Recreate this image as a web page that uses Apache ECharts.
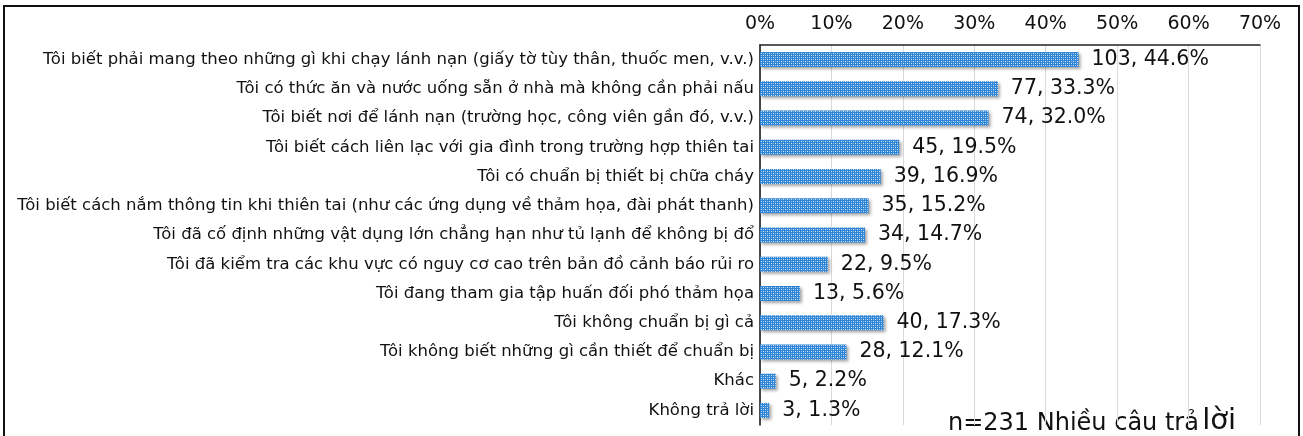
<!DOCTYPE html>
<html>
<head>
<meta charset="utf-8">
<style>
  html, body { margin: 0; padding: 0; background: #fff; }
  #chart { width: 1303px; height: 436px; }
</style>
<script src="https://cdn.jsdelivr.net/npm/echarts@6/dist/echarts.min.js"></script>
</head>
<body>
<div id="chart"></div>
<script>
// Survey items (multiple answers allowed), top to bottom
const categories = [
  'Tôi biết phải mang theo những gì khi chạy lánh nạn (giấy tờ tùy thân, thuốc men, v.v.)',
  'Tôi có thức ăn và nước uống sẵn ở nhà mà không cần phải nấu',
  'Tôi biết nơi để lánh nạn (trường học, công viên gần đó, v.v.)',
  'Tôi biết cách liên lạc với gia đình trong trường hợp thiên tai',
  'Tôi có chuẩn bị thiết bị chữa cháy',
  'Tôi biết cách nắm thông tin khi thiên tai (như các ứng dụng về thảm họa, đài phát thanh)',
  'Tôi đã cố định những vật dụng lớn chẳng hạn như tủ lạnh để không bị đổ',
  'Tôi đã kiểm tra các khu vực có nguy cơ cao trên bản đồ cảnh báo rủi ro',
  'Tôi đang tham gia tập huấn đối phó thảm họa',
  'Tôi không chuẩn bị gì cả',
  'Tôi không biết những gì cần thiết để chuẩn bị',
  'Khác',
  'Không trả lời'
];
const counts = [103, 77, 74, 45, 39, 35, 34, 22, 13, 40, 28, 5, 3];
const percents = [44.6, 33.3, 32.0, 19.5, 16.9, 15.2, 14.7, 9.5, 5.6, 17.3, 12.1, 2.2, 1.3];
const axisTicks = [0, 10, 20, 30, 40, 50, 60, 70];
const noteText = 'n=231 Nhiều câu trả';
const noteTail = 'lời';

const FONT = '"DejaVu Sans", "Noto Sans", sans-serif';

// Blue cross-hatch fill for the bars
function makePattern() {
  const c = document.createElement('canvas');
  c.width = 4; c.height = 4;
  const g = c.getContext('2d');
  g.fillStyle = '#2f86d6';
  g.fillRect(0, 0, 4, 4);
  g.fillStyle = '#d6e8f8';
  g.fillRect(1, 1, 1, 1);
  g.fillRect(3, 3, 1, 1);
  g.fillStyle = '#8fbfea';
  g.fillRect(3, 1, 1, 1);
  g.fillRect(1, 3, 1, 1);
  return c;
}

const chart = echarts.init(document.getElementById('chart'), null, { renderer: 'canvas' });

const tickMin = axisTicks[0];
const tickMax = axisTicks[axisTicks.length - 1];
const tickStep = axisTicks[1] - axisTicks[0];

chart.setOption({
  animation: false,
  backgroundColor: '#fff',
  grid: { left: 760, top: 45, width: 500, height: 380, containLabel: false },
  xAxis: {
    type: 'value',
    position: 'top',
    min: tickMin, max: tickMax, interval: tickStep,
    axisLine: { show: true, lineStyle: { color: '#222', width: 1.5 } },
    axisTick: { show: false },
    splitLine: { show: true, lineStyle: { color: '#d9d9d9', width: 1 } },
    axisLabel: {
      formatter: '{value}%', color: '#111', fontSize: 19, fontFamily: FONT, margin: 11
    }
  },
  yAxis: {
    type: 'category',
    inverse: true,
    data: categories,
    axisLine: { show: true, lineStyle: { color: '#111', width: 1.5 } },
    axisTick: { show: false },
    axisLabel: { color: '#111', fontSize: 16.5, fontFamily: FONT, margin: 6 }
  },
  series: [{
    type: 'bar',
    data: percents,
    barWidth: 15,
    itemStyle: {
      color: { image: makePattern(), repeat: 'repeat' },
      shadowColor: 'rgba(0,0,0,0.35)',
      shadowBlur: 3,
      shadowOffsetX: 2,
      shadowOffsetY: 2
    },
    label: {
      show: true,
      position: 'right',
      distance: 13,
      color: '#111',
      fontSize: 20.5,
      fontFamily: FONT,
      formatter: p => counts[p.dataIndex] + ', ' + percents[p.dataIndex].toFixed(1) + '%'
    }
  }],
  graphic: [
    {
      type: 'rect',
      shape: { x: 4, y: 6, width: 1295, height: 436 },
      style: { fill: 'none', stroke: '#111', lineWidth: 2 },
      silent: true
    },
    {
      type: 'text',
      left: 948, top: 407,
      style: {
        text: '{a|' + noteText + '} {b|' + noteTail + '}',
        rich: {
          a: { fontSize: 24, fontFamily: FONT, fill: '#111', verticalAlign: 'bottom' },
          b: { fontSize: 29, fontFamily: FONT, fill: '#111', verticalAlign: 'bottom' }
        }
      }
    }
  ]
});
</script>
</body>
</html>
